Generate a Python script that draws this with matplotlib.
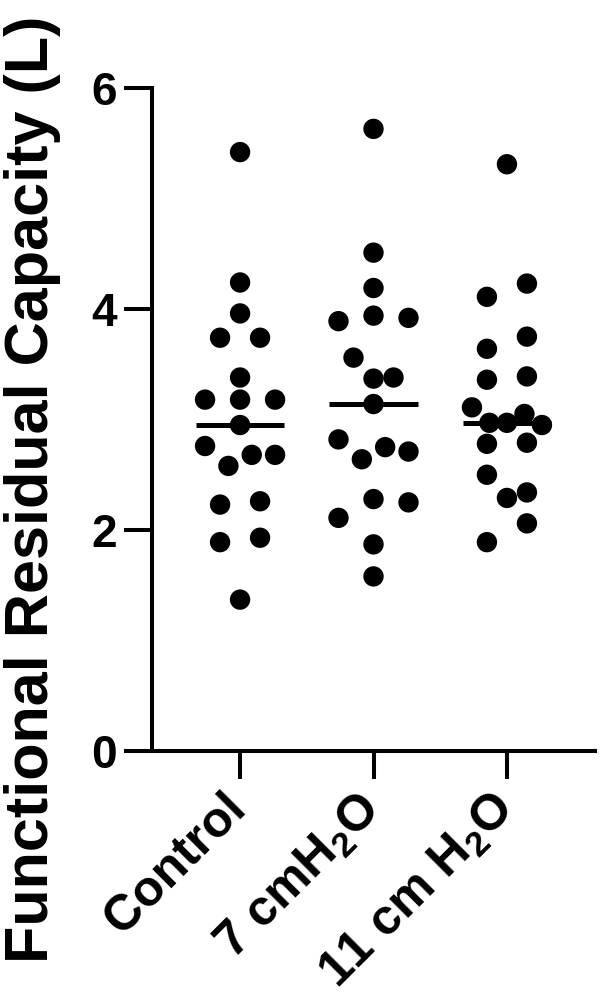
import numpy as np
import matplotlib
matplotlib.use('Agg')
import matplotlib.pyplot as plt
from matplotlib.transforms import ScaledTranslation

plt.rcParams['font.family'] = ['Liberation Sans', 'DejaVu Sans']
plt.rcParams['font.weight'] = 'bold'
plt.rcParams['mathtext.fontset'] = 'custom'
plt.rcParams['mathtext.rm'] = 'Liberation Sans:bold'
plt.rcParams['mathtext.it'] = 'Liberation Sans:bold'
plt.rcParams['mathtext.bf'] = 'Liberation Sans:bold'
plt.rcParams['mathtext.sf'] = 'Liberation Sans:bold'

groups = ['Control', '7 cmH$_2$O', '11 cm H$_2$O']
control = [5.42, 4.24, 3.96, 3.74, 3.74, 3.38, 3.18, 3.18, 3.18, 2.95,
           2.76, 2.58, 2.68, 2.68, 2.23, 2.26, 1.89, 1.93, 1.37]
cm7 = [5.63, 4.51, 4.19, 3.89, 3.94, 3.92, 3.56, 3.37, 3.38, 3.14,
       2.82, 2.64, 2.75, 2.71, 2.11, 2.28, 2.25, 1.87, 1.58]
cm11 = [5.31, 4.11, 4.23, 3.64, 3.75, 3.36, 3.39, 3.11, 2.97, 2.97,
        3.05, 2.95, 2.78, 2.79, 2.50, 2.29, 2.34, 1.89, 2.06]
data = [control, cm7, cm11]
yticks = [0, 2, 4, 6]
ylabel = 'Functional Residual Capacity (L)'


def rows_layout(y_px, h):
    # Prism-like column scatter: points closer than h in y share a row,
    # rows are spread symmetrically around the group centre (pixels)
    y_px = np.asarray(y_px)
    xs = np.zeros(len(y_px))
    order = sorted(range(len(y_px)), key=lambda k: -y_px[k])
    rows = []
    for k in order:
        if rows and y_px[rows[-1][0]] - y_px[k] < h:
            rows[-1].append(k)
        else:
            rows.append([k])
    for row in rows:
        row = sorted(row)
        n = len(row)
        if n == 1:
            continue
        step = 2 * h if n == 2 else 3.5 * h / (n - 1)
        for j, k in enumerate(row):
            xs[k] = (j - (n - 1) / 2) * step
    return xs


fig = plt.figure(figsize=(6, 9.97), dpi=100)
ax = fig.add_axes([152 / 600, 1 - 751 / 997, 443 / 600, 663 / 997])
ax.set_xlim(-0.66, 2.66)
ax.set_ylim(0, 6)

px_per_x = ax.transData.transform((1, 0))[0] - ax.transData.transform((0, 0))[0]
for i, vals in enumerate(data):
    vals = np.array(vals)
    ypx = ax.transData.transform(np.column_stack([np.full(len(vals), i), vals]))[:, 1]
    off = rows_layout(ypx, 20) / px_per_x
    ax.scatter(i + off, vals, s=215, color='black', edgecolors='none', zorder=3, clip_on=False)
    med = np.median(vals)
    ax.plot([i - 0.33, i + 0.33], [med, med], color='black', lw=3.6, solid_capstyle='butt', zorder=2)

for s in ['top', 'right']:
    ax.spines[s].set_visible(False)
for s in ['left', 'bottom']:
    ax.spines[s].set_linewidth(2.9)

ax.set_yticks(yticks)
ax.set_xticks(range(len(groups)))
ax.set_xticklabels(groups, rotation=45, ha='right', rotation_mode='anchor', fontsize=36)
ax.tick_params(axis='both', length=20.5, width=2.9, labelsize=33, pad=5)
ax.tick_params(axis='x', pad=4, labelsize=36)
shift = ScaledTranslation(-0.18, 0.0, fig.dpi_scale_trans)
for lab in ax.get_xticklabels():
    lab.set_transform(lab.get_transform() + shift)
ax.set_ylabel(ylabel, fontsize=44, fontweight='bold')
ax.yaxis.set_label_coords(-0.205, 0.395)

fig.savefig('out.png', dpi=100)
